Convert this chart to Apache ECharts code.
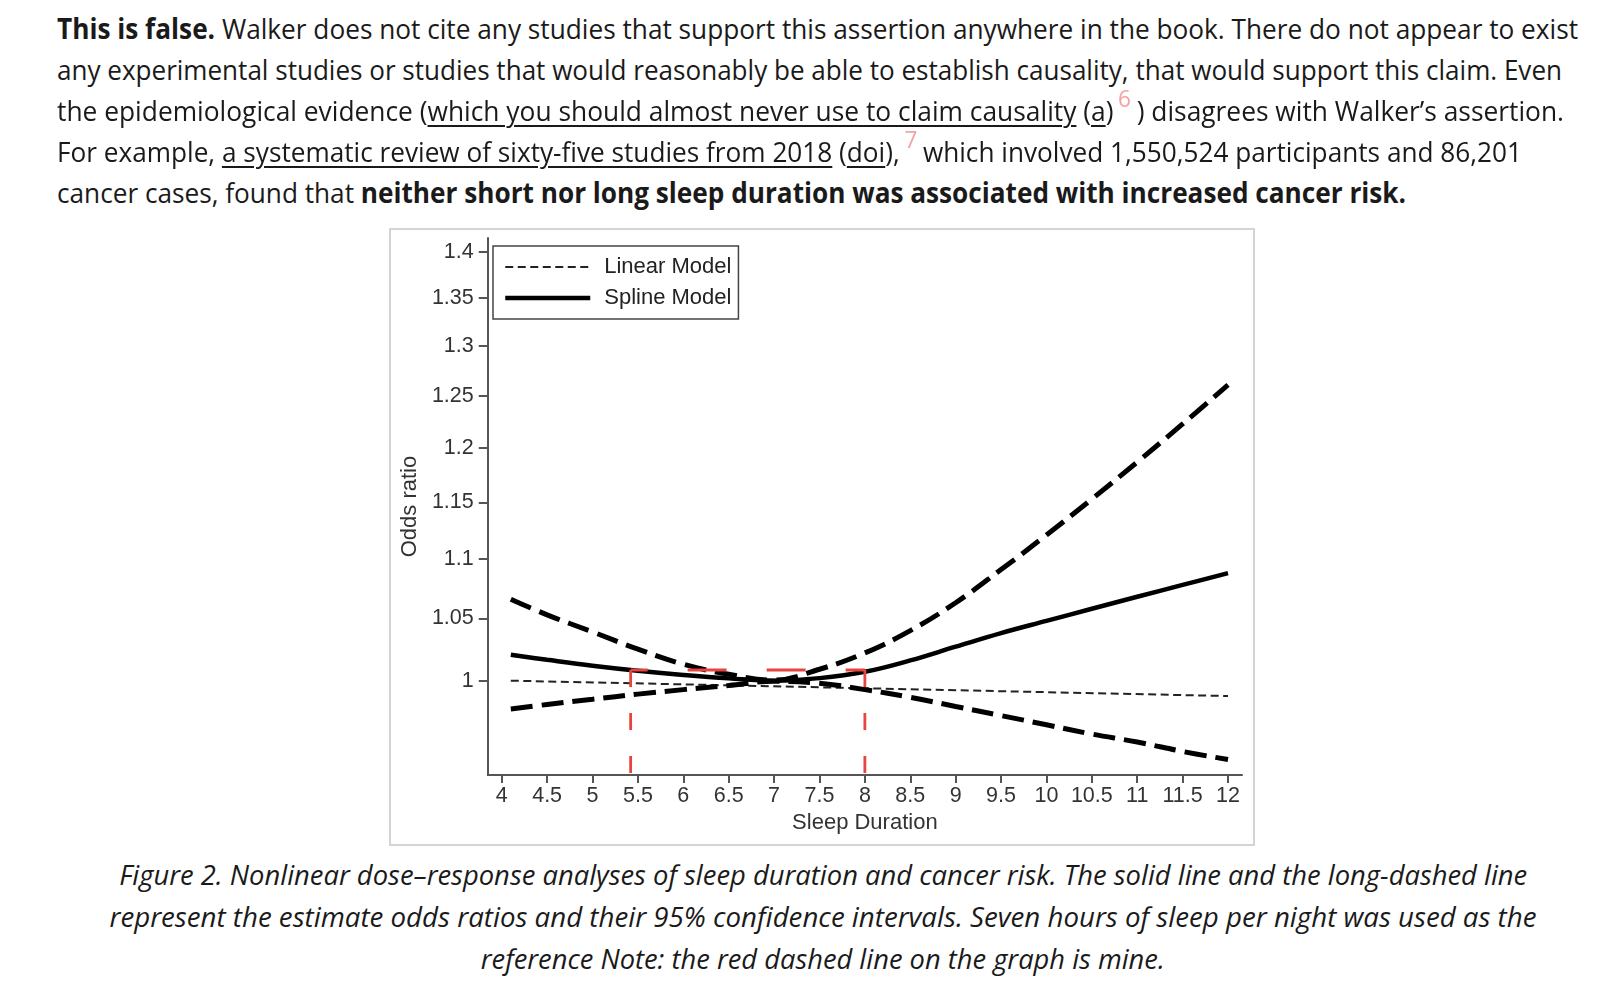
<!DOCTYPE html>
<html>
<head>
<meta charset="utf-8">
<script src="https://cdn.jsdelivr.net/npm/echarts@6/dist/echarts.min.js"></script>
<style>
  html, body { margin: 0; padding: 0; background: #fff; }
  body { width: 1600px; height: 989px; position: relative; overflow: hidden; color: #1a1a1a; font-family: "Open Sans", "Noto Sans", sans-serif; }
  .para { position: absolute; left: 57px; top: 8px; font-size: 28px; line-height: 41px; }
  .para .ln { height: 41px; }
  .ln { display: block; white-space: nowrap; }
  .t { display: inline-block; transform-origin: 0 50%; }
  .para u { text-decoration-thickness: 1.5px; text-underline-offset: 4px; }
  .fn { color: #f2a3a3; font-size: 24px; line-height: 0; position: relative; top: -14px; margin: 0 6px 0 5px; }
  .cap { position: absolute; left: 0; top: 854px; width: 1646px; text-align: center; font-style: italic; font-size: 28px; line-height: 41.8px; }
  .cap .ln { height: 41.8px; }
  .cap .t { transform-origin: 50% 50%; }
  .figure { position: absolute; left: 389px; top: 228px; width: 862px; height: 614px; border: 2px solid #d4d4d4; }
  #main { width: 862px; height: 614px; }
</style>
</head>
<body>

<div class="para">
  <div class="ln" data-w="1521"><span class="t"><b>This is false.</b> Walker does not cite any studies that support this assertion anywhere in the book. There do not appear to exist</span></div>
  <div class="ln" data-w="1505"><span class="t">any experimental studies or studies that would reasonably be able to establish causality, that would support this claim. Even</span></div>
  <div class="ln" data-w="1507"><span class="t">the epidemiological evidence (<u>which you should almost never use to claim causality</u> (<u>a</u>)<span class="fn">6</span>) disagrees with Walker’s assertion.</span></div>
  <div class="ln" data-w="1465"><span class="t">For example, <u>a systematic review of sixty-five studies from 2018</u> (<u>doi</u>),<span class="fn">7</span>which involved 1,550,524 participants and 86,201</span></div>
  <div class="ln" data-w="1349"><span class="t">cancer cases, found that <b>neither short nor long sleep duration was associated with increased cancer risk.</b></span></div>
</div>

<div class="figure"><div id="main"></div></div>

<div class="cap">
  <div class="ln" data-w="1408"><span class="t">Figure 2. Nonlinear dose–response analyses of sleep duration and cancer risk. The solid line and the long-dashed line</span></div>
  <div class="ln" data-w="1427"><span class="t">represent the estimate odds ratios and their 95% confidence intervals. Seven hours of sleep per night was used as the</span></div>
  <div class="ln" data-w="684"><span class="t">reference Note: the red dashed line on the graph is mine.</span></div>
</div>

<script>
    // values (odds ratios, y axis is logarithmic)
    var hours = [4.1, 4.5, 5, 5.5, 6, 6.5, 7, 7.5, 8, 8.5, 9, 9.5, 10, 10.5, 11, 11.5, 12];
    var splineOR = [1.0205, 1.0165, 1.0118, 1.0078, 1.0045, 1.0018, 1.000, 1.002, 1.007, 1.016, 1.027, 1.038, 1.048, 1.058, 1.068, 1.078, 1.088];
    var upperCI = [1.066, 1.053, 1.039, 1.025, 1.013, 1.005, 1.0005, 1.009, 1.022, 1.040, 1.063, 1.091, 1.121, 1.153, 1.187, 1.223, 1.261];
    var lowerCI = [0.978, 0.9815, 0.9855, 0.9895, 0.993, 0.9962, 0.9995, 0.998, 0.993, 0.987, 0.980, 0.973, 0.966, 0.959, 0.953, 0.946, 0.940];
    var linearHours = [4.1, 12];
    var linearOR = [1.000, 0.988];

    // red marks added by the blogger
    var redHours = [5.42, 8.0];
    var redOR = 1.0084;

    var xTicks = [4, 4.5, 5, 5.5, 6, 6.5, 7, 7.5, 8, 8.5, 9, 9.5, 10, 10.5, 11, 11.5, 12];
    var yTicks = [1, 1.05, 1.1, 1.15, 1.2, 1.25, 1.3, 1.35, 1.4];
    var xMin = 3.846, xMax = 12.154;
    var yMin = 0.9287, yMax = 1.415;

    function pairs(xs, ors) {
        return xs.map(function (x, i) { return [x, Math.log(ors[i])]; });
    }

    var labelFont = 'Liberation Sans';
    var axisGray = '#555';

    var chartDom = document.getElementById('main');
    var myChart = echarts.init(chartDom);
    var ciStyle = { color: '#000', width: 5, type: [22, 9] };

    var option = {
        animation: false,
        grid: { left: 95, right: 11, top: 8, bottom: 69 },
        legend: {
            data: ['Linear Model', 'Spline Model'],
            orient: 'vertical',
            left: 102,
            top: 16,
            itemWidth: 85,
            itemHeight: 24,
            itemGap: 7,
            padding: [9, 7, 9, 10],
            borderColor: '#444',
            borderWidth: 1.5,
            selectedMode: false,
            itemStyle: { opacity: 0 },
            lineStyle: { width: 'inherit' },
            textStyle: { fontSize: 22, color: '#222', fontFamily: labelFont, padding: [0, 0, 0, 9], lineHeight: 24 }
        },
        xAxis: {
            type: 'value',
            min: xMin,
            max: xMax,
            name: 'Sleep Duration',
            nameLocation: 'middle',
            nameGap: 34,
            nameTextStyle: { fontSize: 22, color: '#333', fontFamily: labelFont },
            axisLine: { onZero: false, lineStyle: { color: axisGray, width: 2 } },
            axisTick: { customValues: xTicks, length: 8, lineStyle: { color: axisGray, width: 2 } },
            axisLabel: { customValues: xTicks, margin: 10, fontSize: 21.5, color: '#333', fontFamily: labelFont },
            splitLine: { show: false }
        },
        yAxis: {
            type: 'value',
            min: Math.log(yMin),
            max: Math.log(yMax),
            name: 'Odds ratio',
            nameLocation: 'middle',
            nameGap: 66,
            nameTextStyle: { fontSize: 22, color: '#333', fontFamily: labelFont },
            axisLine: { show: true, onZero: false, lineStyle: { color: axisGray, width: 2 } },
            axisTick: { show: true, customValues: yTicks.map(Math.log), length: 9, lineStyle: { color: axisGray, width: 2 } },
            axisLabel: {
                customValues: yTicks.map(Math.log),
                margin: 14,
                fontSize: 21.5,
                color: '#333',
                fontFamily: labelFont,
                formatter: function (v) { return String(+Math.exp(v).toFixed(2)); }
            },
            splitLine: { show: false }
        },
        series: [
            {
                name: 'Linear Model', type: 'line', symbol: 'none', silent: true,
                data: pairs(linearHours, linearOR),
                itemStyle: { color: '#222' },
                lineStyle: { color: '#222', width: 2, type: [8, 4.5] }
            },
            {
                name: 'Spline Model', type: 'line', symbol: 'none', silent: true, smooth: 0.4,
                data: pairs(hours, splineOR),
                itemStyle: { color: '#000' },
                lineStyle: { color: '#000', width: 4.5 }
            },
            {
                name: 'Upper 95% CI', type: 'line', symbol: 'none', silent: true, smooth: 0.4,
                data: pairs(hours, upperCI),
                lineStyle: ciStyle
            },
            {
                name: 'Lower 95% CI', type: 'line', symbol: 'none', silent: true, smooth: 0.4,
                data: pairs(hours, lowerCI),
                lineStyle: ciStyle
            },
            {
                name: 'red left', type: 'line', symbol: 'none', silent: true,
                data: [[redHours[0], Math.log(redOR)], [redHours[0], Math.log(yMin)]],
                lineStyle: { color: '#e8443f', width: 2.8, type: [17, 26] }
            },
            {
                name: 'red top', type: 'line', symbol: 'none', silent: true,
                data: [[redHours[0], Math.log(redOR)], [redHours[1], Math.log(redOR)]],
                lineStyle: { color: '#e8443f', width: 2.8, type: [39, 40], dashOffset: 22 }
            },
            {
                name: 'red right', type: 'line', symbol: 'none', silent: true,
                data: [[redHours[1], Math.log(redOR)], [redHours[1], Math.log(yMin)]],
                lineStyle: { color: '#e8443f', width: 2.8, type: [17, 26] }
            }
        ]
    };

    myChart.setOption(option);

    // squeeze each text line to the width it has in the screenshot
    function fitLines() {
        document.querySelectorAll('[data-w]').forEach(function (el) {
            var t = el.querySelector('.t');
            t.style.transform = 'none';
            var w = t.getBoundingClientRect().width;
            t.style.transform = 'scaleX(' + (parseFloat(el.getAttribute('data-w')) / w) + ')';
        });
    }
    fitLines();
    if (document.fonts && document.fonts.ready) document.fonts.ready.then(fitLines);
</script>
</body>
</html>
